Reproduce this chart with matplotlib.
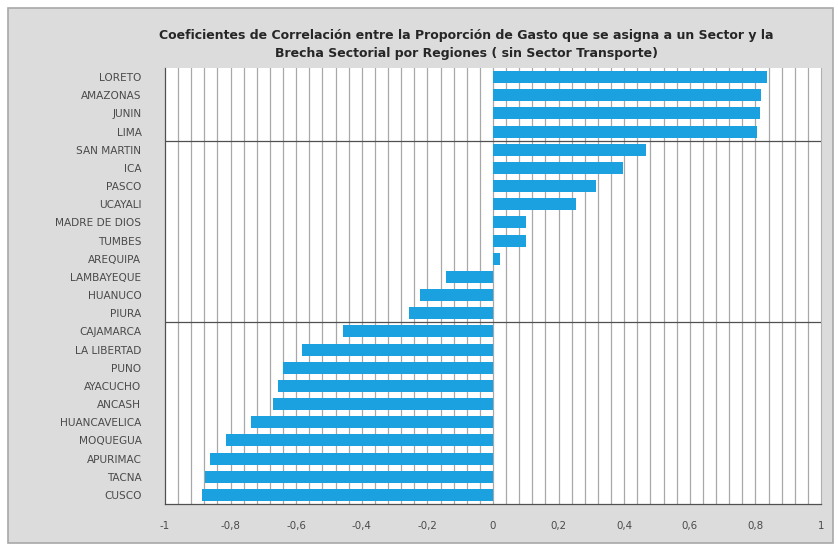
import matplotlib
matplotlib.use("Agg")
import matplotlib.pyplot as plt
import numpy as np
from matplotlib.patches import Rectangle

regions = ["CUSCO", "TACNA", "APURIMAC", "MOQUEGUA", "HUANCAVELICA", "ANCASH",
           "AYACUCHO", "PUNO", "LA LIBERTAD", "CAJAMARCA", "PIURA", "HUANUCO",
           "LAMBAYEQUE", "AREQUIPA", "TUMBES", "MADRE DE DIOS", "UCAYALI",
           "PASCO", "ICA", "SAN MARTIN", "LIMA", "JUNIN", "AMAZONAS", "LORETO"]
values = [-0.886, -0.878, -0.863, -0.815, -0.739, -0.672,
          -0.654, -0.639, -0.583, -0.456, -0.256, -0.223,
          -0.144, 0.021, 0.10, 0.10, 0.253,
          0.313, 0.395, 0.465, 0.806, 0.814, 0.816, 0.834]
xticks = [-1, -0.8, -0.6, -0.4, -0.2, 0, 0.2, 0.4, 0.6, 0.8, 1]
xticklabels = ["-1", "-0,8", "-0,6", "-0,4", "-0,2", "0", "0,2", "0,4", "0,6", "0,8", "1"]
title_lines = ["Coeficientes de Correlación entre la Proporción de Gasto que se asigna a un Sector y la",
               "Brecha Sectorial por Regiones ( sin Sector Transporte)"]

plt.rcParams['font.family'] = ['DejaVu Sans']

W, H = 838, 548
fig = plt.figure(figsize=(W / 100, H / 100), dpi=100)
fig.patch.set_facecolor("white")
bg = Rectangle((8 / W, 5 / H), (833 - 8) / W, (540 - 5) / H,
               transform=fig.transFigure, facecolor="#dcdcdc",
               edgecolor="#a8a8a8", linewidth=1.2, zorder=-10)
fig.patches.append(bg)

ax = fig.add_axes([165 / W, 1 - 504 / H, (821 - 165) / W, (504 - 68) / H])
ax.set_zorder(1)
ax.set_facecolor("white")
y = np.arange(len(regions))
ax.barh(y, values, height=0.66, color="#1ba1df", zorder=3)

ax.set_xlim(-1, 1)
ax.set_ylim(-0.5, len(regions) - 0.5)
for gx in np.arange(-0.96, 0.97, 0.04):
    ax.axvline(gx, color="#a8a8a8", linewidth=0.9, zorder=1)
for gy in [9.5, 19.5]:
    ax.axhline(gy, color="#505050", linewidth=0.9, zorder=4)

ax.set_yticks(y)
ax.set_yticklabels(regions, fontsize=7.6, color="#4a4a4a")
ax.set_xticks(xticks)
ax.set_xticklabels(xticklabels, fontsize=7.4, color="#4a4a4a")
ax.tick_params(axis="y", length=0, pad=17)
ax.tick_params(axis="x", length=0, pad=12)

ax.spines["top"].set_visible(False)
ax.spines["left"].set_color("#505050")
ax.spines["bottom"].set_color("#505050")
ax.spines["right"].set_color("#b0b0b0")
ax.spines["left"].set_linewidth(0.9)
ax.spines["bottom"].set_linewidth(0.9)

fig.text(466 / W, 1 - 35 / H, title_lines[0], ha="center", va="center", fontsize=9,
         fontweight="bold", color="#262626")
fig.text(466 / W, 1 - 53 / H, title_lines[1], ha="center", va="center", fontsize=9,
         fontweight="bold", color="#262626")

fig.savefig("out.png", dpi=100, facecolor=fig.get_facecolor())
